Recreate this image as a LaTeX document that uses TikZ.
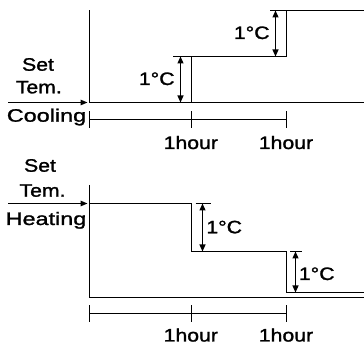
\documentclass[tikz,border=0pt]{standalone}
\usepackage{fontspec}
\setmainfont{Liberation Sans}
\newfontfamily\lab[FakeStretch=1.18,FakeBold=1.4]{Liberation Sans}
\newfontfamily\labw[FakeStretch=1.3,FakeBold=1.4]{Liberation Sans}
\usetikzlibrary{arrows.meta}
\begin{document}
\begin{tikzpicture}[x=1pt,y=-1pt,
  ln/.style={line width=1.2pt},
  tip/.style={-{Triangle[length=7pt,width=5.5pt]}},
  dim/.style={{Triangle[length=7pt,width=6pt]}-{Triangle[length=7pt,width=6pt]}, line width=1.1pt},
  txt/.style={inner sep=0pt, anchor=base, font=\lab\fontsize{18}{20}\selectfont},
  big/.style={inner sep=0pt, anchor=base, font=\labw\fontsize{18}{20}\selectfont}]
\useasboundingbox (0,0) rectangle (364,344);
% ---------- Cooling panel ----------
\coordinate (cTop) at (89.5,10.5);
\coordinate (cO) at (89.5,102.5);
\coordinate (cE) at (364,102.5);
\coordinate (cS1a) at (191.5,102.5);
\coordinate (cS1b) at (191.5,56.5);
\coordinate (cS2a) at (286.5,56.5);
\coordinate (cS2b) at (286.5,10.5);
\coordinate (cS2e) at (364,10.5);
\coordinate (cArS) at (8,102.5);
\draw[ln] (cTop) -- (cO) -- (cE);
\draw[ln] (cS1a) -- (cS1b) -- (cS2a) -- (cS2b) -- (cS2e);
\draw[ln,tip] (cArS) -- ([xshift=-2pt]cO);
% dimension marks
\coordinate (cT1) at (173,56.5);
\draw[ln] (cT1) -- (cS1b);
\coordinate (cD1a) at (180.5,56.5);
\coordinate (cD1b) at (180.5,102.5);
\draw[dim] (cD1a) -- (cD1b);
\coordinate (cT2) at (270,10.5);
\draw[ln] (cT2) -- (cS2b);
\coordinate (cD2a) at (275.5,10.5);
\coordinate (cD2b) at (275.5,56.5);
\draw[dim] (cD2a) -- (cD2b);
% time axis
\coordinate (cH0) at (89.5,119.5);
\coordinate (cH1) at (191.5,119.5);
\coordinate (cH2) at (286.5,119.5);
\draw[ln] (cH0) -- (cH2);
\foreach \p in {cH0,cH1,cH2} \draw[ln] ([yshift=-8.5pt]\p) -- ([yshift=8.5pt]\p);
% texts
\node[txt] (cSet) at (38,70.7) {Set};
\node[txt] (cTem) at (38.8,93.3) {Tem.};
\node[big] (cCool) at (46.5,121.7) {Cooling};
\node[txt] (cDeg1) at (156.7,85) {1°C};
\node[txt] (cDeg2) at (251.7,39) {1°C};
\node[txt] (cHr1) at (190.8,149) {1hour};
\node[txt] (cHr2) at (286,149) {1hour};
% ---------- Heating panel ----------
\coordinate (hTop) at (89.5,185);
\coordinate (hO) at (89.5,297.5);
\coordinate (hE) at (364,297.5);
\coordinate (hS0) at (89.5,203.5);
\coordinate (hS1a) at (191.5,203.5);
\coordinate (hS1b) at (191.5,251.5);
\coordinate (hS2a) at (286.5,251.5);
\coordinate (hS2b) at (286.5,292.5);
\coordinate (hS2e) at (364,292.5);
\coordinate (hArS) at (8,203.5);
\draw[ln] (hTop) -- (hO) -- (hE);
\draw[ln] (hS0) -- (hS1a) -- (hS1b) -- (hS2a) -- (hS2b) -- (hS2e);
\draw[ln,tip] (hArS) -- ([xshift=-2pt]hS0);
% dimension marks
\coordinate (hT1a) at (195.7,203.5);
\coordinate (hT1b) at (210.7,203.5);
\draw[ln] (hT1a) -- (hT1b);
\coordinate (hD1a) at (202.5,203.5);
\coordinate (hD1b) at (202.5,251.5);
\draw[dim] (hD1a) -- (hD1b);
\coordinate (hT2a) at (290,251.5);
\coordinate (hT2b) at (301.7,251.5);
\draw[ln] (hT2a) -- (hT2b);
\coordinate (hD2a) at (295.5,251.5);
\coordinate (hD2b) at (295.5,292.5);
\draw[dim] (hD2a) -- (hD2b);
% time axis
\coordinate (hH0) at (89.5,313.5);
\coordinate (hH1) at (191.5,313.5);
\coordinate (hH2) at (286.5,313.5);
\draw[ln] (hH0) -- (hH2);
\foreach \p in {hH0,hH1,hH2} \draw[ln] ([yshift=-8.5pt]\p) -- ([yshift=8.5pt]\p);
% texts
\node[txt] (hSet) at (40,171.7) {Set};
\node[txt] (hTem) at (42.5,196.7) {Tem.};
\node[big] (hHeat) at (46,225) {Heating};
\node[txt] (hDeg1) at (224.2,233.3) {1°C};
\node[txt] (hDeg2) at (316.7,280) {1°C};
\node[txt] (hHr1) at (190.8,341.5) {1hour};
\node[txt] (hHr2) at (286,341.5) {1hour};
\end{tikzpicture}
\end{document}
